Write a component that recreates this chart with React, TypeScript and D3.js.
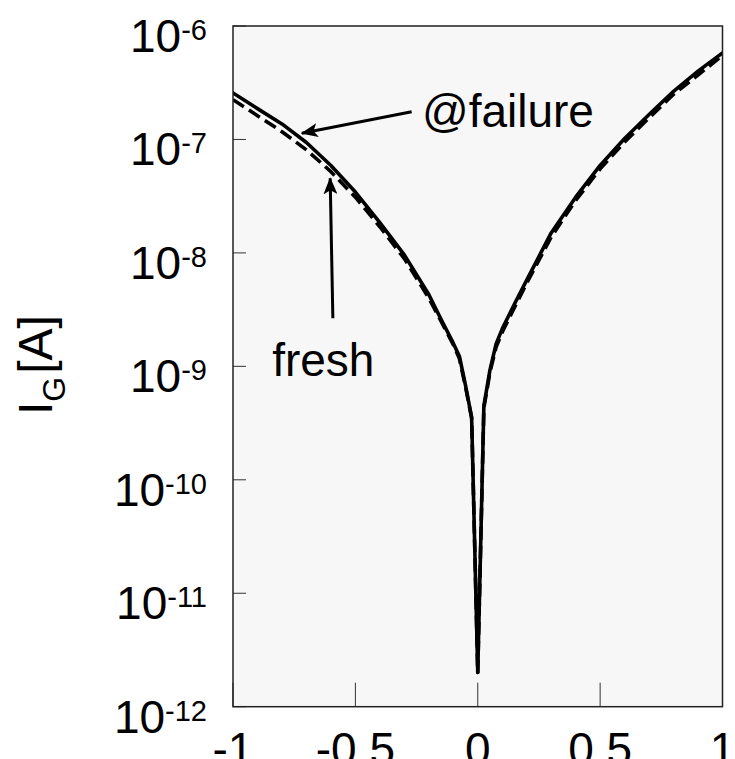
import React, { useEffect } from "react";
import * as d3 from "d3";

// Gate voltage [V]
const voltage = [-1, -0.9, -0.8, -0.7, -0.6, -0.5, -0.4, -0.3, -0.2, -0.15, -0.1, -0.075, -0.05, -0.025, 0,
  0.025, 0.05, 0.075, 0.1, 0.15, 0.2, 0.3, 0.4, 0.5, 0.6, 0.7, 0.8, 0.9, 1.0];

// I_G [A] @failure (solid)
const failureCurrent = [2.57e-7, 1.87e-7, 1.37e-7, 9.4e-8, 5.9e-8, 3.44e-8, 1.85e-8, 9.6e-9, 4.3e-9, 2.6e-9, 1.6e-9, 1.23e-9, 6.8e-10, 3.55e-10, 2.0e-12,
  4.5e-10, 9.3e-10, 1.58e-9, 2.14e-9, 3.55e-9, 5.75e-9, 1.5e-8, 3.1e-8, 5.9e-8, 1.02e-7, 1.66e-7, 2.65e-7, 4.0e-7, 5.8e-7];

// I_G [A] fresh (dashed)
const freshCurrent = [2.24e-7, 1.62e-7, 1.17e-7, 8.1e-8, 5.2e-8, 3.1e-8, 1.7e-8, 8.9e-9, 4.0e-9, 2.5e-9, 1.55e-9, 1.17e-9, 6.6e-10, 3.5e-10, 2.0e-12,
  4.3e-10, 8.9e-10, 1.48e-9, 2.0e-9, 3.3e-9, 5.4e-9, 1.38e-8, 2.9e-8, 5.5e-8, 9.5e-8, 1.55e-7, 2.5e-7, 3.7e-7, 5.5e-7];

const xTicks = [-1, -0.5, 0, 0.5, 1];
const xTickLabels = ["-1", "-0.5", "0", "0.5", "1"];
const yExponents = [-6, -7, -8, -9, -10, -11, -12];

const W = 735, H = 759;
const L = 233, R = 722.5, T = 26, B = 706.7;
const FONT = "'Liberation Sans', Arial, sans-serif";

export default function App() {
  useEffect(() => {
    document.body.style.margin = "0";
  }, []);

  const x = d3.scaleLinear().domain([-1, 1]).range([L, R]);
  const y = d3.scaleLog().domain([1e-12, 1e-6]).range([B, T]);

  const line = d3.line<number>()
    .x((_, i) => x(voltage[i]))
    .y((d) => y(d));

  // annotation anchors in data space
  const failArrow = { x1: x(-0.27), y1: y(10 ** -6.755), x2: x(-0.719), y2: y(10 ** -6.946) };
  const failText = { x: x(-0.228), y: y(10 ** -6.89) };
  const freshArrow = { x1: x(-0.592), y1: y(10 ** -8.576), x2: x(-0.603), y2: y(10 ** -7.342) };
  const freshText = { x: x(-0.84), y: y(10 ** -9.085) };

  return (
    <svg width={W} height={H} style={{ display: "block", position: "absolute", left: 0, top: 0 }} fontFamily={FONT}>
      <defs>
        <clipPath id="plotclip">
          <rect x={L} y={T} width={R - L} height={B - T} />
        </clipPath>
        <marker id="arrowhead" markerUnits="userSpaceOnUse" markerWidth={18} markerHeight={14}
          viewBox="0 0 18 14" refX={16} refY={7} orient="auto">
          <path d="M0,0 L17,7 L0,14 L4,7 Z" fill="#000" />
        </marker>
      </defs>
      <rect x={L} y={T} width={R - L} height={B - T} fill="#f7f7f7" />

      {/* y ticks */}
      {yExponents.map((e) => (
        <line key={"yt" + e} x1={L} x2={L + 13} y1={y(10 ** e)} y2={y(10 ** e)} stroke="#333" strokeWidth={1} />
      ))}
      {/* x ticks */}
      {xTicks.map((t) => (
        <line key={"xt" + t} x1={x(t)} x2={x(t)} y1={B} y2={B - 24} stroke="#333" strokeWidth={1} />
      ))}

      <g clipPath="url(#plotclip)">
        <path d={line(freshCurrent) || ""} fill="none" stroke="#000" strokeWidth={3.6} strokeDasharray="13,6" strokeLinejoin="round" />
        <path d={line(failureCurrent) || ""} fill="none" stroke="#000" strokeWidth={3.6} strokeLinejoin="round" strokeLinecap="round" />
      </g>

      <rect x={L} y={T} width={R - L} height={B - T} fill="none" stroke="#222" strokeWidth={1.5} />

      {/* y tick labels */}
      {yExponents.map((e) => (
        <text key={"yl" + e} x={207} y={y(10 ** e) + 26} textAnchor="end" fill="#000">
          <tspan fontSize={46}>10</tspan>
          <tspan fontSize={29} dy={-12}>{String(e)}</tspan>
        </text>
      ))}

      {/* x tick labels (cut off at the bottom edge, as in the original) */}
      {xTicks.map((t, i) => (
        <text key={"xl" + t} x={x(t)} y={765} textAnchor="middle" fontSize={46} fill="#000">{xTickLabels[i]}</text>
      ))}

      {/* y axis title */}
      <text transform="translate(52,415) rotate(-90)" fontSize={48} fill="#000">
        <tspan>I</tspan>
        <tspan fontSize={32} dy={13}>G</tspan>
        <tspan dy={-13} dx={3}>[A]</tspan>
      </text>

      {/* annotations */}
      <line x1={failArrow.x1} y1={failArrow.y1} x2={failArrow.x2} y2={failArrow.y2} stroke="#000" strokeWidth={3} markerEnd="url(#arrowhead)" />
      <text x={failText.x} y={failText.y} fontSize={46} fill="#000">@failure</text>
      <line x1={freshArrow.x1} y1={freshArrow.y1} x2={freshArrow.x2} y2={freshArrow.y2} stroke="#000" strokeWidth={3} markerEnd="url(#arrowhead)" />
      <text x={freshText.x} y={freshText.y} fontSize={46} fill="#000">fresh</text>
    </svg>
  );
}
